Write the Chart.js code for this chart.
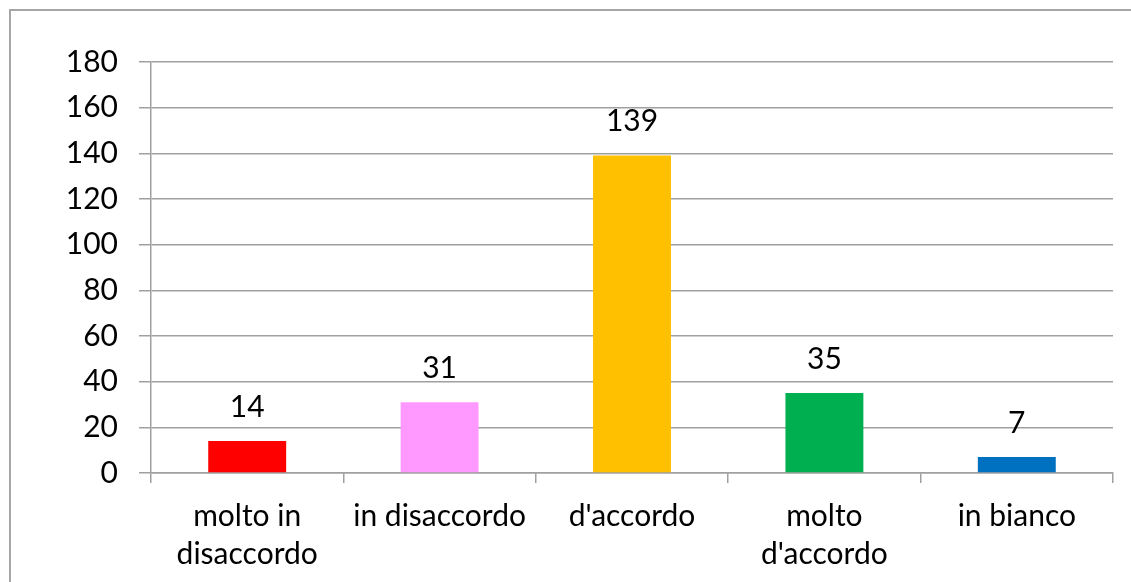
<!DOCTYPE html>
<html>
<head>
<meta charset="utf-8">
<script src="https://cdn.jsdelivr.net/npm/chart.js@4"></script>
<style>
    html, body { margin: 0; padding: 0; background: #fff; }
    #wrap { width: 1131px; height: 582px; }
</style>
</head>
<body>
<div id="wrap"><canvas id="answersChart" width="1131" height="582"></canvas></div>
<script>
const categories = [['molto in', 'disaccordo'], 'in disaccordo', "d'accordo", ['molto', "d'accordo"], 'in bianco'];
const answerCounts = [14, 31, 139, 35, 7];
const barColors = ['#FF0000', '#FF99FF', '#FFC000', '#00B050', '#0070C0'];
const yTicks = [0, 20, 40, 60, 80, 100, 120, 140, 160, 180];

const FONT = 'Lato';

// outer frame, like the spreadsheet chart border
const framePlugin = {
    id: 'frame',
    beforeDraw(chart) {
        const ctx = chart.ctx;
        ctx.save();
        ctx.fillStyle = '#fff';
        ctx.fillRect(0, 0, chart.width, chart.height);
        ctx.strokeStyle = '#A6A6A6';
        ctx.lineWidth = 2;
        ctx.strokeRect(10, 10, chart.width + 20, chart.height + 20);
        ctx.restore();
    }
};

// value labels above the bars
const valueLabels = {
    id: 'valueLabels',
    afterDatasetsDraw(chart) {
        const ctx = chart.ctx;
        const meta = chart.getDatasetMeta(0);
        ctx.save();
        ctx.font = '30px ' + FONT;
        ctx.fillStyle = '#000';
        ctx.textAlign = 'center';
        ctx.textBaseline = 'middle';
        meta.data.forEach((bar, i) => {
            ctx.fillText(String(answerCounts[i]), bar.x, bar.y - 34);
        });
        ctx.restore();
    }
};

new Chart(document.getElementById('answersChart').getContext('2d'), {
    type: 'bar',
    data: {
        labels: categories,
        datasets: [{
            data: answerCounts,
            backgroundColor: barColors,
            categoryPercentage: 1,
            barPercentage: 0.405
        }]
    },
    options: {
        responsive: false,
        animation: false,
        layout: { padding: { left: 20, top: 62, right: 18, bottom: 0 } },
        plugins: {
            legend: { display: false },
            tooltip: { enabled: false }
        },
        scales: {
            y: {
                min: 0,
                max: 180,
                afterBuildTicks(scale) {
                    scale.ticks = yTicks.map(v => ({ value: v }));
                },
                afterFit(scale) { scale.width = 131; },
                grid: {
                    color: '#A0A0A0',
                    lineWidth: 1.5,
                    tickLength: 12
                },
                border: { color: '#A0A0A0', width: 1.5 },
                ticks: {
                    color: '#000',
                    padding: 21,
                    font: { family: FONT, size: 30 }
                }
            },
            x: {
                afterFit(scale) { scale.height = 582 - 473; },
                grid: {
                    offset: true,
                    drawOnChartArea: false,
                    color: '#A0A0A0',
                    lineWidth: 1.5,
                    tickLength: 10
                },
                border: { color: '#A0A0A0', width: 1.5 },
                ticks: {
                    color: '#000',
                    padding: 15,
                    maxRotation: 0,
                    font: { family: FONT, size: 30, lineHeight: 1.25 }
                }
            }
        }
    },
    plugins: [framePlugin, valueLabels]
});
</script>
</body>
</html>
